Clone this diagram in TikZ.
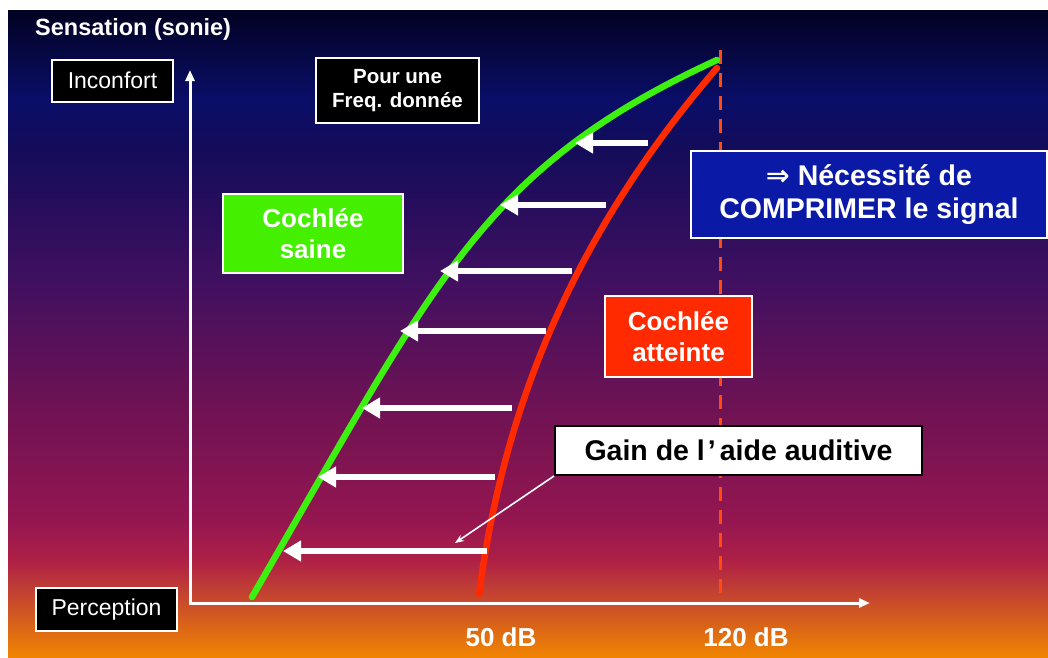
\documentclass[tikz,border=0pt]{standalone}
\usepackage{fontspec}
\setmainfont{Liberation Sans}
\newfontfamily\djv{DejaVu Sans}
\usetikzlibrary{arrows.meta}
\definecolor{bgA}{HTML}{020222}
\definecolor{bgB}{HTML}{0A0E68}
\definecolor{bgC}{HTML}{140C5A}
\definecolor{bgD}{HTML}{401060}
\definecolor{bgE}{HTML}{6C1254}
\definecolor{bgF}{HTML}{941650}
\definecolor{bgG}{HTML}{AE2046}
\definecolor{bgH}{HTML}{C84A2C}
\definecolor{bgI}{HTML}{F08400}
\definecolor{sainegreen}{HTML}{44F000}
\definecolor{curvegreen}{HTML}{3CF010}
\definecolor{curvered}{HTML}{FF2A00}
\definecolor{boxred}{HTML}{FF2A00}
\definecolor{boxblue}{HTML}{0A1AA6}
\definecolor{dashorange}{HTML}{FF4A10}
\newcommand{\fsz}[2]{\fontsize{#1pt}{#2pt}\selectfont}
\begin{document}
\begin{tikzpicture}[x=1pt,y=-1pt,
  framebox/.style={draw=white, line width=2pt, text=white, inner sep=0pt, align=center},
  blackbox/.style={framebox, fill=black},
  gainbox/.style={draw=black, line width=2pt, fill=white, text=black, inner sep=0pt, align=center},
  bigarrow/.style={white, line width=6pt, -{Triangle[length=18pt,width=20pt]}},
  axis/.style={white, line width=3pt, {Triangle[length=11pt,width=9pt]}-{Triangle[length=11pt,width=9pt]}},
  curve/.style={line width=6.5pt, line cap=round},
  dashline/.style={draw=dashorange, line width=3pt, dash pattern=on 14pt off 9pt},
  pointer/.style={white, line width=1.6pt, -{Stealth[length=9pt,width=7pt]}}]
\useasboundingbox (0,0) rectangle (1048,657);
\fill[white] (0,0) rectangle (1048,657);
% background gradient
\shade[top color=bgA,bottom color=bgB] (8,10) rectangle (1048,100.5);
\shade[top color=bgB,bottom color=bgC] (8,100) rectangle (1048,150.5);
\shade[top color=bgC,bottom color=bgD] (8,150) rectangle (1048,280.5);
\shade[top color=bgD,bottom color=bgE] (8,280) rectangle (1048,400.5);
\shade[top color=bgE,bottom color=bgF] (8,400) rectangle (1048,520.5);
\shade[top color=bgF,bottom color=bgG] (8,520) rectangle (1048,560.5);
\shade[top color=bgG,bottom color=bgH] (8,560) rectangle (1048,600.5);
\shade[top color=bgH,bottom color=bgI] (8,600) rectangle (1048,657);
% coordinates
\coordinate (ytip) at (190,70);
\coordinate (xtip) at (870,603);
\coordinate (dtop) at (720,50);
\coordinate (dbot) at (720,603);
\coordinate (gstart) at (252,597);
\coordinate (gend) at (717,60);
\coordinate (rstart) at (479,594);
\coordinate (rend) at (717,68);
% dashed line at 120 dB
\draw[dashline] (dtop) -- (dbot);
% axes
\draw[axis] (ytip) |- (xtip);
% curves
\draw[curve, curvegreen] (gstart) .. controls (436,280) and (482,168) .. (gend);
\draw[curve, curvered] (rstart) .. controls (502.3,418.7) and (566,243.3) .. (rend);
% gain arrows
\draw[bigarrow] (648,143) -- (575,143);
\draw[bigarrow] (606,205) -- (500,205);
\draw[bigarrow] (572,271) -- (440,271);
\draw[bigarrow] (546,331) -- (400,331);
\draw[bigarrow] (512,408) -- (362,408);
\draw[bigarrow] (495,477) -- (318,477);
\draw[bigarrow] (487,551) -- (283,551);
% labels
\node[anchor=west, text=white, inner sep=0pt, font=\fsz{23.5}{28}\bfseries] (sens) at (35,29) {Sensation (sonie)};
\node[blackbox, minimum width=121pt, minimum height=42pt, font=\fsz{23}{27}] (inconf) at (112.5,80.5) {Inconfort};
\node[blackbox, minimum width=163pt, minimum height=65pt, font=\fsz{20.5}{24}\bfseries] (freq) at (397.5,90.5) {Pour une\\ Freq. donnée};
\node[framebox, fill=boxblue, minimum width=356pt, minimum height=87pt, font=\fsz{28.5}{33}\bfseries] (comp) at (869,194.5) {{\djv\bfseries ⇒} Nécessité de\\ COMPRIMER le signal};
\node[framebox, fill=sainegreen, minimum width=180pt, minimum height=79pt, font=\fsz{26}{31}\bfseries] (saine) at (313,233.5) {Cochlée\\ saine};
\node[framebox, fill=boxred, minimum width=147pt, minimum height=81pt, font=\fsz{26}{31}\bfseries] (atteinte) at (678.5,336.5) {Cochlée\\ atteinte};
\node[gainbox, minimum width=367pt, minimum height=49pt, font=\fsz{28.5}{33}\bfseries] (gain) at (738.5,450.5) {Gain de l\hspace{3pt}’\hspace{4pt}aide auditive};
\node[blackbox, minimum width=141pt, minimum height=43pt, font=\fsz{23}{27}] (perc) at (106.5,609.5) {Perception};
\node[text=white, inner sep=0pt, font=\fsz{26}{30}\bfseries] (db50) at (501,637) {50 dB};
\node[text=white, inner sep=0pt, font=\fsz{26}{30}\bfseries] (db120) at (746,637) {120 dB};
% pointer
\coordinate (ptip) at (455,543);
\draw[pointer] (gain.south west) -- (ptip);
\end{tikzpicture}
\end{document}
